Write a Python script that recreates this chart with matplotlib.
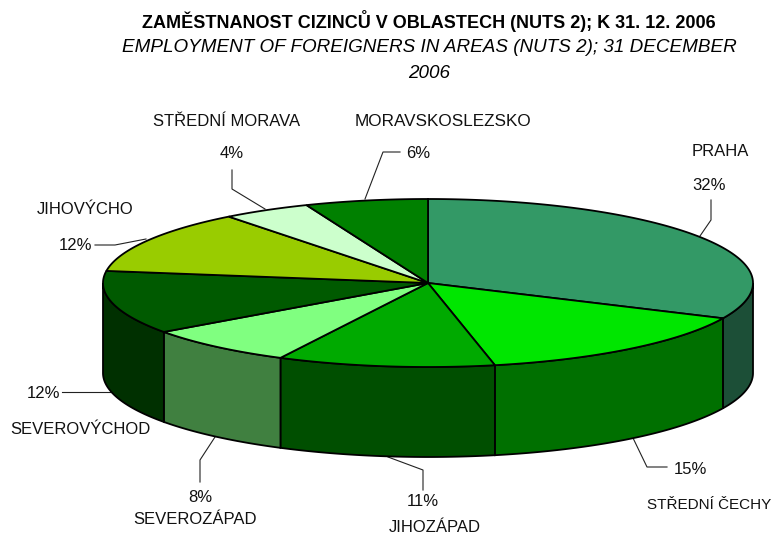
import numpy as np
import matplotlib
matplotlib.use('Agg')
import matplotlib.pyplot as plt
from matplotlib.patches import Polygon

plt.rcParams['font.family'] = ['Liberation Sans', 'DejaVu Sans']

regions = ['PRAHA', 'STŘEDNÍ ČECHY', 'JIHOZÁPAD', 'SEVEROZÁPAD', 'SEVEROVÝCHOD',
           'JIHOVÝCHO', 'STŘEDNÍ MORAVA', 'MORAVSKOSLEZSKO']
values = [31.9, 14.8, 10.8, 7.6, 12.2, 12.2, 4.4, 6.1]
pct_labels = ['32%', '15%', '11%', '8%', '12%', '12%', '4%', '6%']
top_colors = ['#339966', '#00E600', '#00AA00', '#80FF80', '#005A00', '#99CC00', '#CCFFCC', '#008000']
side_colors = ['#1C4F37', '#007000', '#004F00', '#408040', '#003000', '#528000', '#70A070', '#004000']

# pixel layout of the tilted pie
cx, cy = 428, 283
rx, ry = 325, 84
depth = 90

name_pos = [(720, 152), (709, 505), (435, 527), (195, 519), (80, 430), (85, 210), (227, 122), (443, 122)]
name_size = [12, 11, 12, 12, 12, 12, 12, 12.3]
pct_pos = [(709, 186), (690, 470), (423, 502), (200, 497), (44, 394), (75, 246), (232, 154), (418, 154)]
leaders = [
    [(711, 200), (711, 220), (700, 236)],
    [(633, 438), (647, 467), (667, 467)],
    [(388, 457), (423, 470), (423, 490)],
    [(215, 437), (200, 460), (200, 482)],
    [(62, 392), (112, 392)],
    [(95, 245), (115, 245), (146, 239)],
    [(232, 170), (232, 189), (265, 209)],
    [(400, 152), (383, 152), (365, 199)],
]


def rim(a0, a1):
    # angles clockwise from the top of the pie, in degrees
    t = np.radians(np.linspace(a0, a1, max(int(abs(a1 - a0) * 2), 2)))
    return cx + rx * np.sin(t), cy - ry * np.cos(t)


fig = plt.figure(figsize=(7.73, 5.36), dpi=100)
ax = fig.add_axes([0, 0, 1, 1])
ax.set_xlim(0, 773)
ax.set_ylim(536, 0)
ax.axis('off')

edges = np.concatenate([[0], np.cumsum(values)]) / sum(values) * 360

for pts in leaders:
    ax.plot([p[0] for p in pts], [p[1] for p in pts], color='#222222', lw=0.8, zorder=1)

# walls only where the rim faces the viewer (90..270 deg from the top)
for i in range(len(values)):
    a0, a1 = max(edges[i], 90), min(edges[i + 1], 270)
    if a1 <= a0:
        continue
    x, y = rim(a0, a1)
    wall = np.column_stack([np.r_[x, x[::-1]], np.r_[y, y[::-1] + depth]])
    ax.add_patch(Polygon(wall, closed=True, fc=side_colors[i], ec='black', lw=1.3, zorder=2))

for i in range(len(values)):
    x, y = rim(edges[i], edges[i + 1])
    top = np.column_stack([np.r_[cx, x], np.r_[cy, y]])
    ax.add_patch(Polygon(top, closed=True, fc=top_colors[i], ec='black', lw=1.3, zorder=3))

for i in range(len(values)):
    ax.text(name_pos[i][0], name_pos[i][1], regions[i], ha='center', va='center',
            fontsize=name_size[i], color='#111111', zorder=4)
    ax.text(pct_pos[i][0], pct_pos[i][1], pct_labels[i], ha='center', va='center',
            fontsize=12, color='#111111', zorder=4)

ax.text(429, 21, 'ZAMĚSTNANOST CIZINCŮ V OBLASTECH (NUTS 2); K 31. 12. 2006',
        ha='center', va='center', fontsize=13, fontweight='bold')
ax.text(429, 47, 'EMPLOYMENT OF FOREIGNERS IN AREAS (NUTS 2); 31 DECEMBER',
        ha='center', va='center', fontsize=13.6, style='italic')
ax.text(429, 73, '2006', ha='center', va='center', fontsize=13.6, style='italic')

fig.savefig('out.png', dpi=100)
